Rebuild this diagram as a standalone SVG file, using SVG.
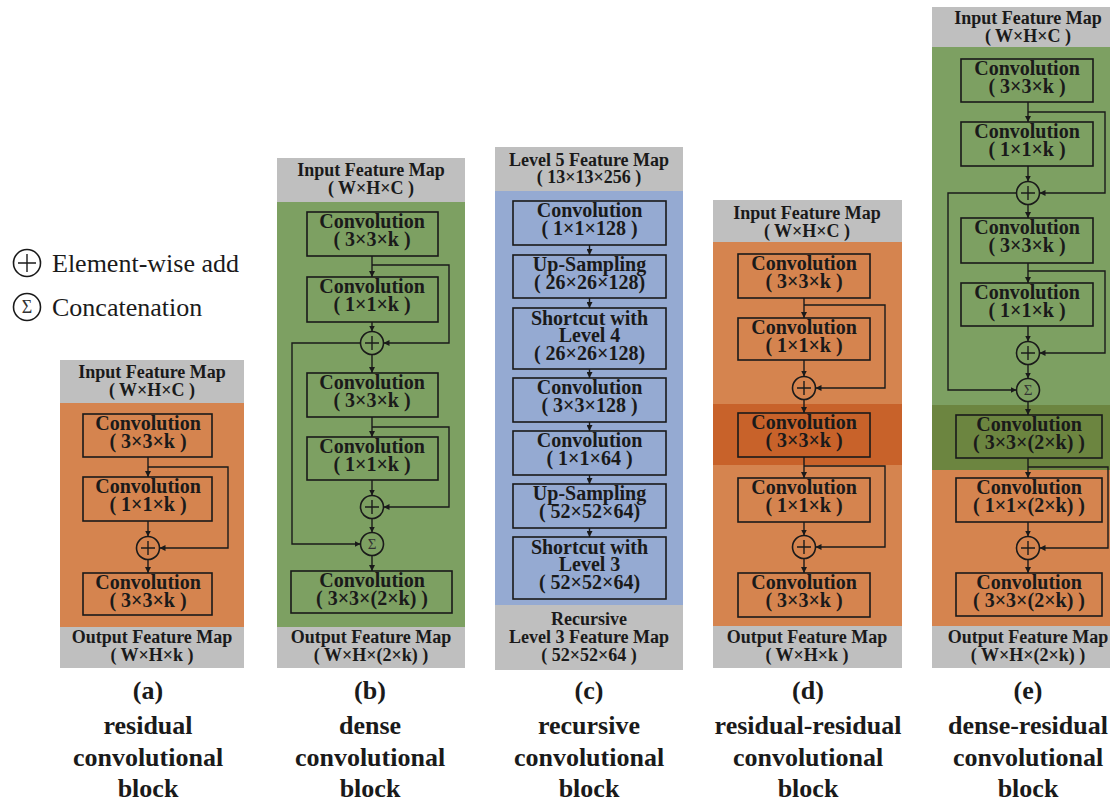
<svg xmlns="http://www.w3.org/2000/svg" width="1110" height="802" viewBox="0 0 1110 802">
<defs>
<marker id="ah" markerWidth="6" markerHeight="6" refX="6" refY="3" orient="auto" markerUnits="userSpaceOnUse">
<path d="M0,0 L6,3 L0,6 z" fill="#1a1a1a"/>
</marker>
<style>
.hdr{fill:#BFBFBF}
.org{fill:#D5844F}
.dorg{fill:#C8622A}
.grn{fill:#7DA062}
.dgrn{fill:#6C8540}
.blu{fill:#95AAD2}
.box{fill:none;stroke:#1a1a1a;stroke-width:1.6}
.cir{fill:none;stroke:#1a1a1a;stroke-width:1.6}
.pl{stroke:#1a1a1a;stroke-width:1.4;fill:none}
.con{stroke:#1a1a1a;stroke-width:1.4;fill:none}
.arr{marker-end:url(#ah)}
text{font-family:'Liberation Serif','Times New Roman',serif;fill:#1a1a1a;text-anchor:middle}
.t{font-size:20px;font-weight:bold}
.h{font-size:18px;font-weight:bold}
.l{font-size:26px;font-weight:bold}
.lg{font-size:26px;text-anchor:start}
.sg{font-size:15px;fill:#333}
</style>
</defs>
<rect width="1110" height="802" fill="#fff"/>

<g id="legend">
<circle class="cir" cx="27" cy="263" r="13.5"/>
<path class="pl" d="M18,263 H36 M27,254 V272"/>
<text class="lg" x="52" y="272">Element-wise add</text>
<circle class="cir" cx="27" cy="307" r="13.5"/>
<text class="sg" x="27" y="313" style="font-size:18px">Σ</text>
<text class="lg" x="52" y="316">Concatenation</text>
</g>

<g id="block-a">
<rect class="hdr" x="60" y="360" width="184" height="43"/>
<rect class="org" x="60" y="403" width="184" height="224"/>
<rect class="hdr" x="60" y="627" width="184" height="41"/>
<text class="h" x="152" y="378">Input Feature Map</text>
<text class="h" x="152" y="396">( W×H×C )</text>
<text class="h" x="152" y="643">Output Feature Map</text>
<text class="h" x="152" y="661">( W×H×k )</text>
</g>
<g id="a-conv1"><rect class="box" x="83" y="414" width="129" height="43"/><text class="t" x="148" y="430">Convolution</text><text class="t" x="148" y="448">( 3×3×k )</text></g>
<g id="a-conv2"><rect class="box" x="83" y="477" width="129" height="44"/><text class="t" x="148" y="493">Convolution</text><text class="t" x="148" y="511">( 1×1×k )</text></g>
<g id="a-add"><circle class="cir" cx="148" cy="548" r="11.5"/><path class="pl" d="M141,548 H155 M148,541 V555"/></g>
<g id="a-conv3"><rect class="box" x="83" y="573" width="129" height="42"/><text class="t" x="148" y="589">Convolution</text><text class="t" x="148" y="607">( 3×3×k )</text></g>

<g id="block-b">
<rect class="hdr" x="277" y="158" width="188" height="44"/>
<rect class="grn" x="277" y="202" width="188" height="425"/>
<rect class="hdr" x="277" y="627" width="188" height="41"/>
<text class="h" x="371" y="176">Input Feature Map</text>
<text class="h" x="371" y="194">( W×H×C )</text>
<text class="h" x="371" y="643">Output Feature Map</text>
<text class="h" x="371" y="661">( W×H×(2×k) )</text>
</g>
<g id="b-conv1"><rect class="box" x="307" y="212" width="131" height="44"/><text class="t" x="372" y="228">Convolution</text><text class="t" x="372" y="246">( 3×3×k )</text></g>
<g id="b-conv2"><rect class="box" x="307" y="277" width="131" height="45"/><text class="t" x="372" y="293">Convolution</text><text class="t" x="372" y="311">( 1×1×k )</text></g>
<g id="b-add1"><circle class="cir" cx="372" cy="343" r="11.5"/><path class="pl" d="M365,343 H379 M372,336 V350"/></g>
<g id="b-conv3"><rect class="box" x="307" y="373" width="131" height="44"/><text class="t" x="372" y="389">Convolution</text><text class="t" x="372" y="407">( 3×3×k )</text></g>
<g id="b-conv4"><rect class="box" x="307" y="437" width="131" height="43"/><text class="t" x="372" y="453">Convolution</text><text class="t" x="372" y="471">( 1×1×k )</text></g>
<g id="b-add2"><circle class="cir" cx="372" cy="507" r="11.5"/><path class="pl" d="M365,507 H379 M372,500 V514"/></g>
<g id="b-cat"><circle class="cir" cx="372" cy="544" r="11.5"/><text class="sg" x="372" y="549">Σ</text></g>
<g id="b-conv5"><rect class="box" x="291" y="571" width="161" height="42"/><text class="t" x="372" y="587">Convolution</text><text class="t" x="372" y="605">( 3×3×(2×k) )</text></g>

<g id="block-c">
<rect class="hdr" x="495" y="147" width="188" height="44"/>
<rect class="blu" x="495" y="191" width="188" height="414"/>
<rect class="hdr" x="495" y="605" width="188" height="65"/>
<text class="h" x="589" y="166">Level 5 Feature Map</text>
<text class="h" x="589" y="183">( 13×13×256 )</text>
<text class="h" x="589" y="625">Recursive</text>
<text class="h" x="589" y="643">Level 3 Feature Map</text>
<text class="h" x="589" y="661">( 52×52×64 )</text>
</g>
<g id="c-conv1"><rect class="box" x="513" y="201" width="153" height="44"/><text class="t" x="589.5" y="217">Convolution</text><text class="t" x="589.5" y="235">( 1×1×128 )</text></g>
<g id="c-up1"><rect class="box" x="513" y="255" width="153" height="43"/><text class="t" x="589.5" y="271">Up-Sampling</text><text class="t" x="589.5" y="289">( 26×26×128)</text></g>
<g id="c-sc4"><rect class="box" x="513" y="308" width="153" height="61"/><text class="t" x="589.5" y="325">Shortcut with</text><text class="t" x="589.5" y="342">Level 4</text><text class="t" x="589.5" y="360">( 26×26×128)</text></g>
<g id="c-conv2"><rect class="box" x="513" y="378" width="153" height="44"/><text class="t" x="589.5" y="394">Convolution</text><text class="t" x="589.5" y="412">( 3×3×128 )</text></g>
<g id="c-conv3"><rect class="box" x="513" y="431" width="153" height="44"/><text class="t" x="589.5" y="447">Convolution</text><text class="t" x="589.5" y="465">( 1×1×64 )</text></g>
<g id="c-up2"><rect class="box" x="513" y="484" width="153" height="44"/><text class="t" x="589.5" y="500">Up-Sampling</text><text class="t" x="589.5" y="518">( 52×52×64)</text></g>
<g id="c-sc3"><rect class="box" x="513" y="537" width="153" height="62"/><text class="t" x="589.5" y="554">Shortcut with</text><text class="t" x="589.5" y="571">Level 3</text><text class="t" x="589.5" y="589">( 52×52×64)</text></g>

<g id="block-d">
<rect class="hdr" x="713" y="200" width="189" height="42"/>
<rect class="org" x="713" y="242" width="189" height="162"/>
<rect class="dorg" x="713" y="404" width="189" height="61"/>
<rect class="org" x="713" y="465" width="189" height="161"/>
<rect class="hdr" x="713" y="626" width="189" height="42"/>
<text class="h" x="807" y="219">Input Feature Map</text>
<text class="h" x="807" y="237">( W×H×C )</text>
<text class="h" x="807" y="643">Output Feature Map</text>
<text class="h" x="807" y="661">( W×H×k )</text>
</g>
<g id="d-conv1"><rect class="box" x="738" y="254" width="132" height="44"/><text class="t" x="804" y="270">Convolution</text><text class="t" x="804" y="288">( 3×3×k )</text></g>
<g id="d-conv2"><rect class="box" x="738" y="318" width="132" height="42"/><text class="t" x="804" y="334">Convolution</text><text class="t" x="804" y="352">( 1×1×k )</text></g>
<g id="d-add1"><circle class="cir" cx="804" cy="388" r="11.5"/><path class="pl" d="M797,388 H811 M804,381 V395"/></g>
<g id="d-conv3"><rect class="box" x="738" y="413" width="132" height="44"/><text class="t" x="804" y="429">Convolution</text><text class="t" x="804" y="447">( 3×3×k )</text></g>
<g id="d-conv4"><rect class="box" x="738" y="478" width="132" height="44"/><text class="t" x="804" y="494">Convolution</text><text class="t" x="804" y="512">( 1×1×k )</text></g>
<g id="d-add2"><circle class="cir" cx="804" cy="547" r="11.5"/><path class="pl" d="M797,547 H811 M804,540 V554"/></g>
<g id="d-conv5"><rect class="box" x="738" y="573" width="132" height="44"/><text class="t" x="804" y="589">Convolution</text><text class="t" x="804" y="607">( 3×3×k )</text></g>

<g id="block-e">
<rect class="hdr" x="932" y="7" width="178" height="40"/>
<rect class="grn" x="932" y="47" width="178" height="358"/>
<rect class="dgrn" x="932" y="405" width="178" height="65"/>
<rect class="org" x="932" y="470" width="178" height="156"/>
<rect class="hdr" x="932" y="626" width="178" height="42"/>
<text class="h" x="1028" y="24">Input Feature Map</text>
<text class="h" x="1028" y="42">( W×H×C )</text>
<text class="h" x="1028" y="643">Output Feature Map</text>
<text class="h" x="1028" y="661">( W×H×(2×k) )</text>
</g>
<g id="e-conv1"><rect class="box" x="961" y="59" width="132" height="43"/><text class="t" x="1027" y="75">Convolution</text><text class="t" x="1027" y="93">( 3×3×k )</text></g>
<g id="e-conv2"><rect class="box" x="961" y="122" width="132" height="44"/><text class="t" x="1027" y="138">Convolution</text><text class="t" x="1027" y="156">( 1×1×k )</text></g>
<g id="e-add1"><circle class="cir" cx="1028" cy="193" r="11.5"/><path class="pl" d="M1021,193 H1035 M1028,186 V200"/></g>
<g id="e-conv3"><rect class="box" x="961" y="218" width="132" height="45"/><text class="t" x="1027" y="234">Convolution</text><text class="t" x="1027" y="252">( 3×3×k )</text></g>
<g id="e-conv4"><rect class="box" x="961" y="283" width="132" height="43"/><text class="t" x="1027" y="299">Convolution</text><text class="t" x="1027" y="317">( 1×1×k )</text></g>
<g id="e-add2"><circle class="cir" cx="1028" cy="353" r="11.5"/><path class="pl" d="M1021,353 H1035 M1028,346 V360"/></g>
<g id="e-cat"><circle class="cir" cx="1028" cy="390" r="11.5"/><text class="sg" x="1028" y="395">Σ</text></g>
<g id="e-conv5"><rect class="box" x="956" y="415" width="146" height="43"/><text class="t" x="1029" y="431">Convolution</text><text class="t" x="1029" y="449">( 3×3×(2×k) )</text></g>
<g id="e-conv6"><rect class="box" x="956" y="478" width="146" height="44"/><text class="t" x="1029" y="494">Convolution</text><text class="t" x="1029" y="512">( 1×1×(2×k) )</text></g>
<g id="e-add3"><circle class="cir" cx="1028" cy="548" r="11.5"/><path class="pl" d="M1021,548 H1035 M1028,541 V555"/></g>
<g id="e-conv7"><rect class="box" x="956" y="573" width="146" height="43"/><text class="t" x="1029" y="589">Convolution</text><text class="t" x="1029" y="607">( 3×3×(2×k) )</text></g>

<g id="captions">
<text class="l" x="148" y="699">(a)</text>
<text class="l" x="148" y="734">residual</text>
<text class="l" x="148" y="766">convolutional</text>
<text class="l" x="148" y="797">block</text>
<text class="l" x="370" y="699">(b)</text>
<text class="l" x="370" y="734">dense</text>
<text class="l" x="370" y="766">convolutional</text>
<text class="l" x="370" y="797">block</text>
<text class="l" x="589" y="699">(c)</text>
<text class="l" x="589" y="734">recursive</text>
<text class="l" x="589" y="766">convolutional</text>
<text class="l" x="589" y="797">block</text>
<text class="l" x="808" y="699">(d)</text>
<text class="l" x="808" y="734">residual-residual</text>
<text class="l" x="808" y="766">convolutional</text>
<text class="l" x="808" y="797">block</text>
<text class="l" x="1028" y="699">(e)</text>
<text class="l" x="1028" y="734">dense-residual</text>
<text class="l" x="1028" y="766">convolutional</text>
<text class="l" x="1028" y="797">block</text>
</g>

<g id="connectors">
<path class="con arr" d="M148,457 V477"/>
<path class="con arr" d="M148,521 V536.5"/>
<path class="con arr" d="M148,559.5 V573"/>
<path class="con arr" d="M148,467 H228 V548 H159.5"/>
<path class="con arr" d="M372,256 V277"/>
<path class="con arr" d="M372,322 V331.5"/>
<path class="con arr" d="M372,354.5 V373"/>
<path class="con arr" d="M372,265 H449 V343 H383.5"/>
<path class="con arr" d="M360.5,343 H292 V544 H360.5"/>
<path class="con arr" d="M372,417 V437"/>
<path class="con arr" d="M372,480 V495.5"/>
<path class="con arr" d="M372,427 H449 V507 H383.5"/>
<path class="con arr" d="M372,518.5 V532.5"/>
<path class="con arr" d="M372,555.5 V571"/>
<path class="con arr" d="M589.5,245 V255"/>
<path class="con arr" d="M589.5,298 V308"/>
<path class="con arr" d="M589.5,369 V378"/>
<path class="con arr" d="M589.5,422 V431"/>
<path class="con arr" d="M589.5,475 V484"/>
<path class="con arr" d="M589.5,528 V537"/>
<path class="con arr" d="M804,298 V318"/>
<path class="con arr" d="M804,360 V376.5"/>
<path class="con arr" d="M804,399.5 V413"/>
<path class="con arr" d="M804,305 H885 V388 H815.5"/>
<path class="con arr" d="M804,457 V478"/>
<path class="con arr" d="M804,522 V535.5"/>
<path class="con arr" d="M804,558.5 V573"/>
<path class="con arr" d="M804,466 H885 V547 H815.5"/>
<path class="con arr" d="M1028,102 V122"/>
<path class="con arr" d="M1028,166 V181.5"/>
<path class="con arr" d="M1028,204.5 V218"/>
<path class="con arr" d="M1028,112 H1105 V193 H1039.5"/>
<path class="con arr" d="M1016.5,193 H948 V390 H1016.5"/>
<path class="con arr" d="M1028,263 V283"/>
<path class="con arr" d="M1028,326 V341.5"/>
<path class="con arr" d="M1028,271 H1105 V353 H1039.5"/>
<path class="con arr" d="M1028,364.5 V378.5"/>
<path class="con arr" d="M1028,401.5 V415"/>
<path class="con arr" d="M1028,458 V478"/>
<path class="con arr" d="M1028,522 V536.5"/>
<path class="con arr" d="M1028,559.5 V573"/>
<path class="con arr" d="M1028,467 H1108 V548 H1039.5"/>
</g>
</svg>
